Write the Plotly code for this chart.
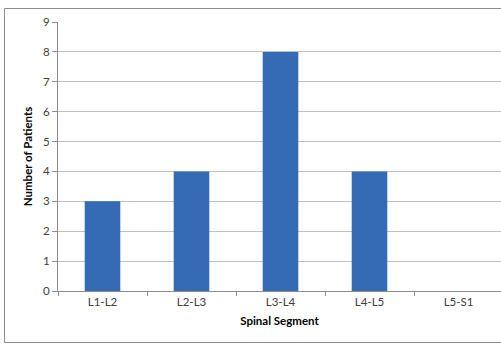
import plotly.graph_objects as go

segments = ["L1-L2", "L2-L3", "L3-L4", "L4-L5", "L5-S1"]
patients = [3, 4, 8, 4, 0]
y_ticks = list(range(0, 10))

W, H = 501, 351
L, R, T, B = 58, 0, 22, 60
pw = W - L - R
ph = H - T - B
cat_w = 89.0
x_max = -0.5 + pw / cat_w

fig = go.Figure(go.Bar(
    x=segments, y=patients, width=0.4,
    marker=dict(color="#356BB4", line=dict(width=0)),
))

font = "Lato, 'Open Sans', sans-serif"
fig.update_layout(
    width=W, height=H,
    margin=dict(l=L, r=R, t=T, b=B, autoexpand=False),
    paper_bgcolor="white", plot_bgcolor="white",
    showlegend=False,
    font=dict(family=font, size=11, color="#404040"),
    xaxis=dict(
        type="category", range=[-0.5, x_max], automargin=False,
        showline=True, linecolor="#8c8c8c", linewidth=1,
        ticks="outside", tickson="boundaries", ticklen=4, tickcolor="#8c8c8c",
        showgrid=False, tickfont=dict(size=11.5, color="#404040"),
        title=dict(text="<b>Spinal Segment</b>", font=dict(size=11.5, color="#000"), standoff=10),
    ),
    yaxis=dict(
        range=[0, 9], tickvals=y_ticks, automargin=False,
        showline=True, linecolor="#8c8c8c", linewidth=1,
        ticks="outside", ticklen=5, tickcolor="#8c8c8c",
        showgrid=True, gridcolor="#c0c0c0", gridwidth=1,
        zeroline=False, tickfont=dict(size=11.5, color="#404040"),
        title=dict(text="<b>Number of Patients</b>", font=dict(size=11.5, color="#000"), standoff=8),
    ),
    shapes=[dict(
        type="rect", xref="paper", yref="paper",
        x0=(4.5 - L) / pw, x1=1.05,
        y0=-(342.5 - (H - B)) / ph, y1=((H - B) - 8.5) / ph,
        line=dict(color="#8c8c8c", width=1), fillcolor="rgba(0,0,0,0)", layer="below",
    )],
)

fig.write_html(
    "out.html",
    config={"displayModeBar": False},
    post_script="document.body.style.margin='0';document.body.style.overflow='hidden';",
)
